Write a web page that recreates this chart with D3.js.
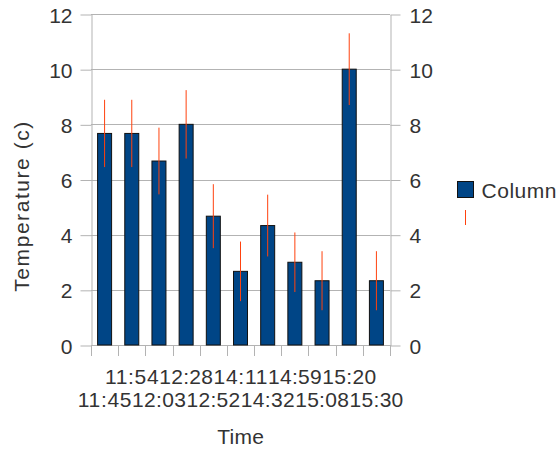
<!DOCTYPE html>
<html>
<head>
<meta charset="utf-8">
<script src="https://cdn.jsdelivr.net/npm/d3@7"></script>
<style>
  html, body { margin: 0; padding: 0; background: #ffffff; }
  svg { display: block; }
  text { font-family: "Liberation Sans", Arial, sans-serif; fill: #333333; }
</style>
</head>
<body>
<svg id="chart" width="558" height="454"></svg>
<script>
// ---- data ----
const categories = ["11:45","11:54","12:03","12:28","12:52","14:11","14:32","14:59","15:08","15:20","15:30"];
const values = [7.67, 7.67, 6.67, 8, 4.67, 2.67, 4.33, 3, 2.33, 10, 2.33];
const errors = [1.22, 1.22, 1.21, 1.24, 1.16, 1.08, 1.12, 1.08, 1.07, 1.3, 1.07];
const yTicks = [0, 2, 4, 6, 8, 10, 12];
const seriesName = "Column";
const xTitle = "Time";
const yTitle = "Temperature (c)";

(function () {
// ---- layout ----
const pL = 91, pR = 390, pT = 14, pB = 345;
const barColor = "#004586", errColor = "#ff420e", gridColor = "#b3b3b3";
const svg = d3.select("#chart");

const x = d3.scaleBand().domain(categories).range([pL, pR]).padding(0);
const y = d3.scaleLinear().domain([0, 12]).range([pB, pT]);
const barFrac = 0.515;

// gridlines
svg.append("g").selectAll("line").data(yTicks).join("line")
  .attr("x1", pL).attr("x2", pR)
  .attr("y1", d => Math.round(y(d)) + 0.5).attr("y2", d => Math.round(y(d)) + 0.5)
  .attr("stroke", gridColor).attr("stroke-width", 1);

// left axis
const gl = svg.append("g").attr("transform", `translate(${pL + 0.5},0.5)`)
  .call(d3.axisLeft(y).tickValues(yTicks).tickSize(11).tickSizeOuter(0).tickPadding(8));
gl.select(".domain").attr("stroke", gridColor);
gl.selectAll(".tick line").attr("stroke", gridColor);
gl.selectAll(".tick text").attr("font-size", 21).attr("dy", "0.36em")
  .attr("font-family", "Liberation Sans, Arial, sans-serif").attr("fill", "#333");
gl.attr("font-size", null).attr("font-family", null);

// right axis
const gr = svg.append("g").attr("transform", `translate(${pR + 0.5},0.5)`)
  .call(d3.axisRight(y).tickValues(yTicks).tickSize(10).tickSizeOuter(0).tickPadding(9));
gr.select(".domain").attr("stroke", gridColor);
gr.selectAll(".tick line").attr("stroke", gridColor);
gr.selectAll(".tick text").attr("font-size", 21).attr("dy", "0.36em")
  .attr("font-family", "Liberation Sans, Arial, sans-serif").attr("fill", "#333");
gr.attr("font-size", null).attr("font-family", null);

// category boundary ticks
svg.append("g").selectAll("line").data(d3.range(categories.length + 1)).join("line")
  .attr("x1", i => Math.round(pL + i * x.step()) + 0.5)
  .attr("x2", i => Math.round(pL + i * x.step()) + 0.5)
  .attr("y1", pB).attr("y2", pB + 11)
  .attr("stroke", gridColor);

// bottom axis labels (alternating rows)
const gb = svg.append("g").attr("transform", `translate(0,${pB})`)
  .call(d3.axisBottom(x).tickSize(0).tickSizeOuter(0));
gb.select(".domain").remove();
gb.selectAll(".tick text")
  .attr("font-size", 21).attr("font-family", "Liberation Sans, Arial, sans-serif").attr("fill", "#333")
  .attr("dy", null)
  .attr("textLength", 53.8).attr("lengthAdjust", "spacing")
  .attr("y", (d, i) => i % 2 === 1 ? 384 - pB : 407 - pB);
gb.attr("font-size", null).attr("font-family", null);

// bars
svg.append("g").selectAll("rect").data(values).join("rect")
  .attr("x", (d, i) => x(categories[i]) + x.bandwidth() * (1 - barFrac) / 2)
  .attr("width", x.bandwidth() * barFrac)
  .attr("y", d => y(d))
  .attr("height", d => y(0) - y(d))
  .attr("fill", barColor)
  .attr("stroke", "#111")
  .attr("stroke-width", 1);

// error bars
svg.append("g").selectAll("line").data(values).join("line")
  .attr("x1", (d, i) => x(categories[i]) + x.bandwidth() / 2)
  .attr("x2", (d, i) => x(categories[i]) + x.bandwidth() / 2)
  .attr("y1", (d, i) => y(d + errors[i]))
  .attr("y2", (d, i) => y(d - errors[i]))
  .attr("stroke", errColor).attr("stroke-width", 1);

// axis titles
svg.append("text").attr("x", (pL + pR) / 2).attr("y", 444)
  .attr("text-anchor", "middle").attr("font-size", 21)
  .attr("textLength", 46.7).attr("lengthAdjust", "spacing").text(xTitle);
svg.append("text")
  .attr("transform", "translate(28.5,206.7) rotate(-90)")
  .attr("text-anchor", "middle").attr("font-size", 21)
  .attr("textLength", 170).attr("lengthAdjust", "spacing")
  .text(yTitle);

// legend
const lg = svg.append("g");
lg.append("rect").attr("x", 457.5).attr("y", 181.5).attr("width", 16).attr("height", 16)
  .attr("fill", barColor).attr("stroke", "#111");
lg.append("text").attr("x", 481.5).attr("y", 198.3).attr("font-size", 21)
  .attr("textLength", 75).attr("lengthAdjust", "spacing").text(seriesName);
lg.append("line").attr("x1", 465.5).attr("x2", 465.5).attr("y1", 210).attr("y2", 225)
  .attr("stroke", errColor).attr("stroke-width", 1);
})();
</script>
</body>
</html>
